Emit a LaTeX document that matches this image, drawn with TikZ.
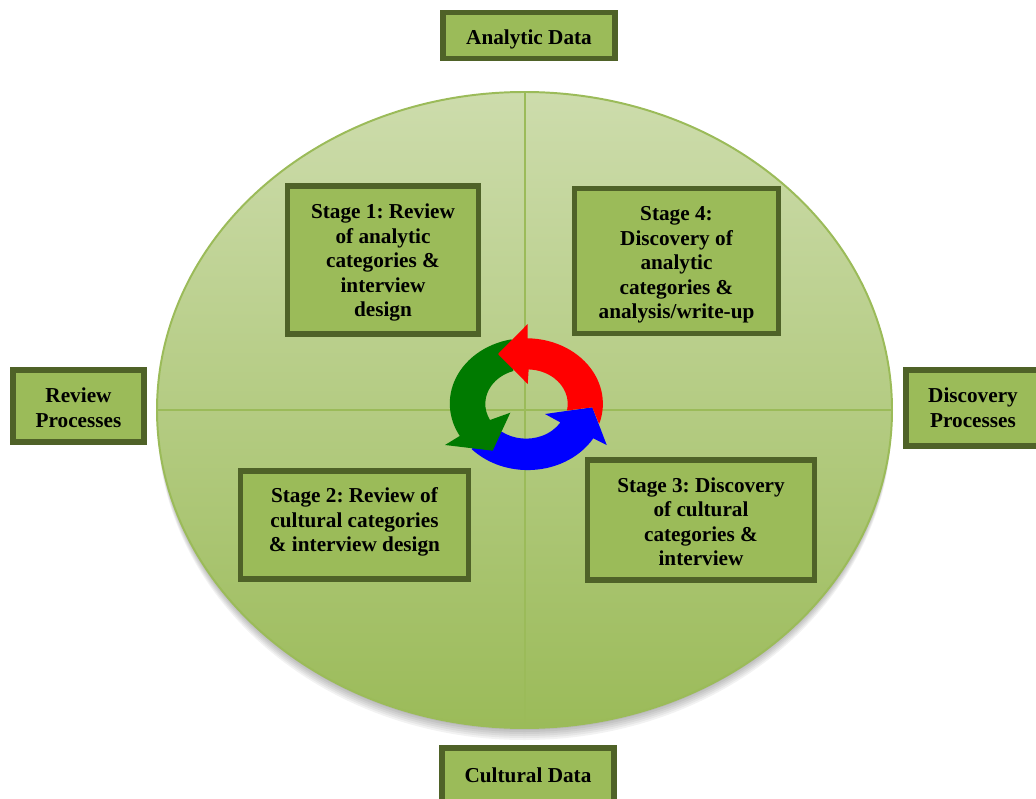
\documentclass[tikz,border=0pt]{standalone}
\usepackage{fontspec}
\setmainfont{Liberation Serif}
\definecolor{plate}{HTML}{9BBB59}
\definecolor{platetop}{HTML}{CDDCAC}
\definecolor{rim}{HTML}{4F6228}
\definecolor{leaf}{HTML}{007A00}
\newcommand{\dropline}[1]{\rule{0pt}{#1}}
\tikzset{
    databox/.style={draw=rim,line width=3.8pt,fill=plate,align=center,inner sep=0pt,
        font=\fontsize{15.1}{17.45}\selectfont\bfseries\frenchspacing},
}
\begin{document}
\begin{tikzpicture}[x=0.025cm,y=0.025cm]
    \useasboundingbox (0,0) rectangle (1036,798);
    % shadow under the circle
    \foreach \d in {2,4,...,12}
        \fill[black,opacity=0.05] (524.5,388-\d) ellipse (367 and 318);
    % circle and its four quarters
    \draw[plate,line width=1.4pt,top color=platetop,bottom color=plate] (524.5,388) ellipse (367.5 and 318);
    \coordinate (T) at (525,706);
    \coordinate (B) at (525,70);
    \coordinate (L) at (157,388);
    \coordinate (R) at (892,388);
    \draw[plate,line width=1.4pt] (T) -- (B);
    \draw[plate,line width=1.4pt] (L) -- (R);
    % outer labels
    \node[databox,minimum width=4.3cm,minimum height=1.14cm] (analytic) at (529,762.5) {\dropline{15.7pt}Analytic Data};
    \node[databox,minimum width=4.3cm,minimum height=1.35cm] (cultural) at (528,23) {Cultural Data};
    \node[databox,minimum width=3.28cm,minimum height=1.8cm] (review) at (78.5,392) {\dropline{12.8pt}Review\\Processes};
    \node[databox,minimum width=3.35cm,minimum height=1.9cm] (discovery) at (973,390) {Discovery\\Processes};
    % stages
    \node[databox,minimum width=4.76cm,minimum height=3.7cm] (stageA) at (383,538) {\dropline{14.3pt}Stage 1: Review\\of analytic\\categories \&\\interview\\design};
    \node[databox,minimum width=5.1cm,minimum height=3.63cm] (stageD) at (676.5,537) {\dropline{15.7pt}Stage 4:\\Discovery of\\analytic\\categories \&\\analysis/write-up};
    \node[databox,minimum width=5.7cm,minimum height=2.7cm] (stageB) at (354.5,273) {Stage 2: Review of\\cultural categories\\\& interview design\rule[-7.6pt]{0pt}{0pt}};
    \node[databox,minimum width=5.68cm,minimum height=3.0cm] (stageC) at (701,278) {\dropline{12.8pt}Stage 3: Discovery\\of cultural\\categories \&\\interview};
    % cycle in the middle
    \fill[blue] (593.3,359.7) arc[start angle=-31,end angle=-137.4,x radius=76.5,y radius=65.5]
        -- (501.7,366.3) arc[start angle=-127,end angle=-32,x radius=40.5,y radius=34.5]
        -- (545,384) -- (592.3,390.7) -- (606.7,353) -- cycle;
    \fill[leaf] (511.7,458.7) arc[start angle=101,end angle=209.6,x radius=76.5,y radius=65.5]
        -- (445,353) -- (492.7,347.3) -- (510.3,385.3) -- (490,378)
        arc[start angle=207.9,end angle=108,x radius=40.5,y radius=34.5] -- cycle;
    \fill[red] (527.7,459.7) arc[start angle=89,end angle=-18,x radius=76.5,y radius=65.5]
        -- (592.3,390.7) -- (567,387.5) arc[start angle=-11,end angle=88,x radius=40.5,y radius=34.5]
        -- (527.7,414) -- (498,444) -- (527.7,474) -- cycle;
\end{tikzpicture}
\end{document}
